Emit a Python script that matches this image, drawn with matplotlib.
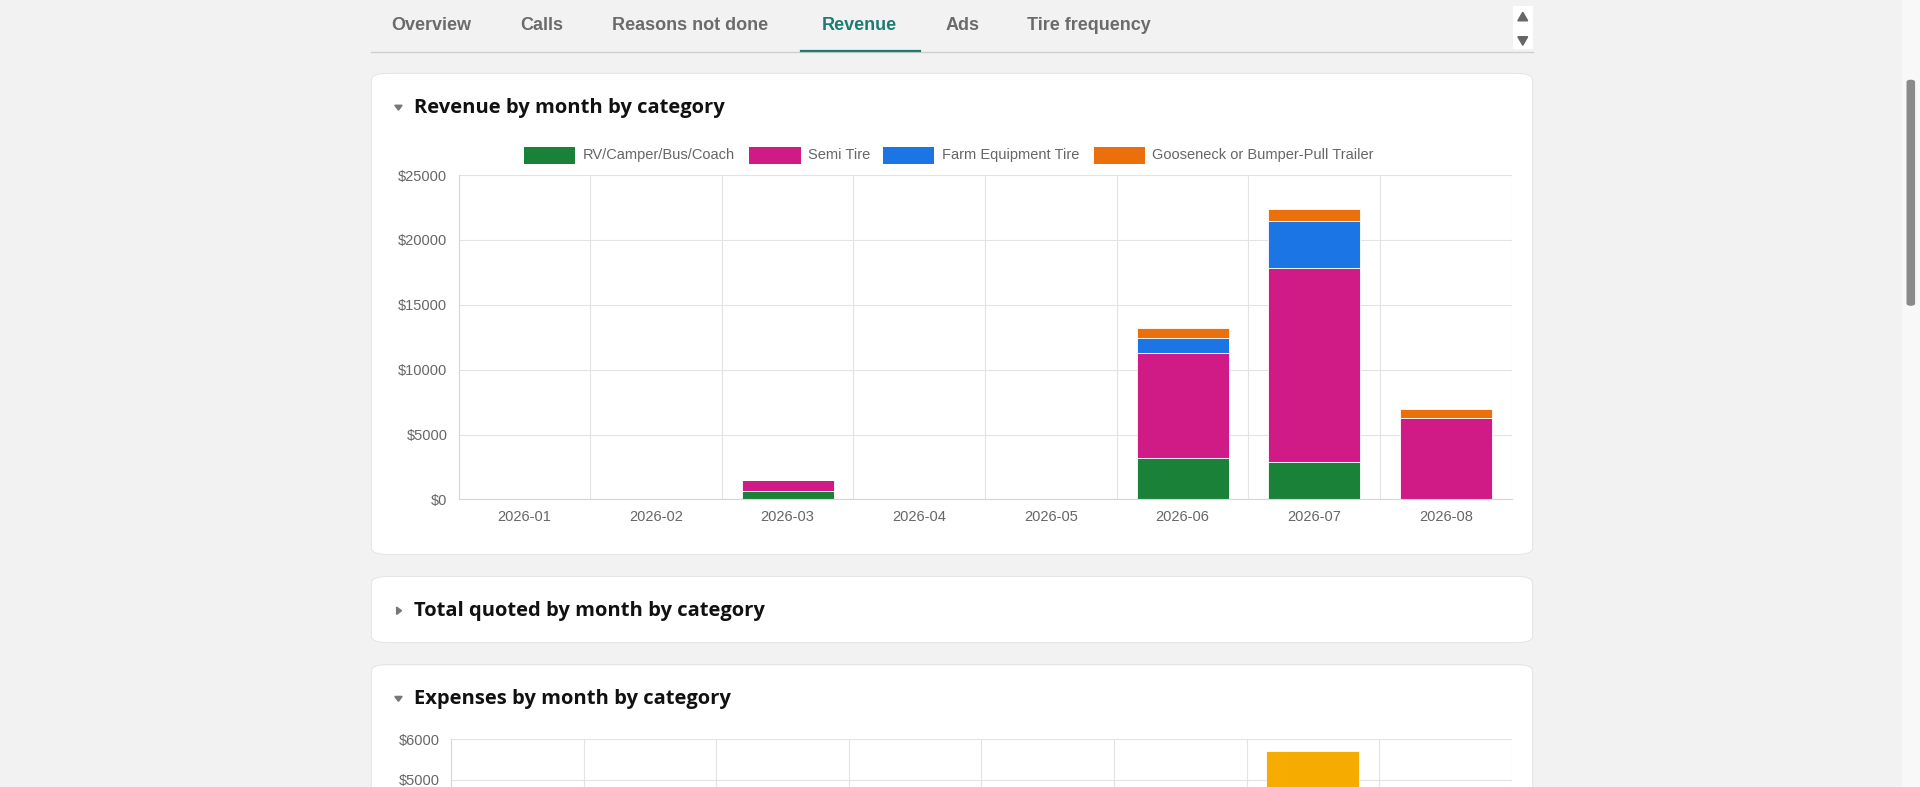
import matplotlib.pyplot as plt
from matplotlib.patches import FancyBboxPatch, Rectangle, Polygon
import numpy as np

plt.rcParams.update({
    'font.family': ['Liberation Sans', 'DejaVu Sans'],
})

months = ['2026-01', '2026-02', '2026-03', '2026-04', '2026-05', '2026-06', '2026-07', '2026-08']
categories = ['RV/Camper/Bus/Coach', 'Semi Tire', 'Farm Equipment Tire', 'Gooseneck or Bumper-Pull Trailer']
colors = ['#1a8238', '#d01a86', '#1b75e4', '#eb700c']
rv_camper = [0, 0, 650, 0, 0, 3200, 2850, 0]
semi_tire = [0, 0, 850, 0, 0, 8100, 15000, 6250]
farm_equipment = [0, 0, 0, 0, 0, 1100, 3600, 0]
gooseneck = [0, 0, 0, 0, 0, 800, 900, 750]
revenue_ticks = [0, 5000, 10000, 15000, 20000, 25000]

expenses_total = [0, 0, 0, 0, 0, 0, 5700, 0]
expenses_ticks = [5000, 6000]  # only these are on screen

# screenshot was laid out in 1566x643 units, saved at 1920x787
W, H = 1566, 643
fig = plt.figure(figsize=(19.2, 7.87), dpi=100)
fig.patch.set_facecolor('#f2f2f2')


def fx(x):
    return x / W


def fy(y):
    return 1 - y / H


def rect(x0, y0, x1, y1):
    return [fx(x0), fy(y1), (x1 - x0) / W, (y1 - y0) / H]


def card(x0, y0, x1, y1):
    fig.patches.append(FancyBboxPatch((fx(x0), fy(y1)), (x1 - x0) / W, (y1 - y0) / H,
                                      boxstyle='round,pad=0,rounding_size=0.008',
                                      transform=fig.transFigure, facecolor='white',
                                      edgecolor='#e6e6e6', linewidth=0.8, zorder=-5))


# tabs
tabs = [('Overview', 319), ('Calls', 424), ('Reasons not done', 499), ('Revenue', 670),
        ('Ads', 771), ('Tire frequency', 838)]
for name, x in tabs:
    col = '#1e7b72' if name == 'Revenue' else '#6b6b6b'
    fig.text(fx(x), fy(21), name, fontsize=13, fontweight='bold', color=col, va='center')
fig.add_artist(plt.Line2D([fx(303), fx(1250)], [fy(42.5), fy(42.5)], color='#cfcfcf', lw=1))
fig.add_artist(plt.Line2D([fx(653), fx(750)], [fy(41.5), fy(41.5)], color='#1e7b72', lw=1.6))
fig.patches.append(Rectangle((fx(1234), fy(40)), 16 / W, 35 / H, transform=fig.transFigure,
                             facecolor='white', edgecolor='none', zorder=-5))
fig.patches.append(Polygon([(fx(1238), fy(17)), (fx(1246), fy(17)), (fx(1242), fy(10))],
                           transform=fig.transFigure, color='#666666'))
fig.patches.append(Polygon([(fx(1238), fy(30)), (fx(1246), fy(30)), (fx(1242), fy(37))],
                           transform=fig.transFigure, color='#666666'))

# page scrollbar
fig.patches.append(Rectangle((fx(1551), 0), 15 / W, 1, transform=fig.transFigure,
                             facecolor='#f8f8f8', edgecolor='none', zorder=-5))
fig.patches.append(FancyBboxPatch((fx(1555), fy(250)), 7 / W, 185 / H,
                                  boxstyle='round,pad=0,rounding_size=0.003',
                                  transform=fig.transFigure, facecolor='#8a8a8a', edgecolor='none'))

# cards
card(303, 60, 1250, 453)
card(303, 471, 1250, 525)
card(303, 543, 1250, 700)

titles = [('Revenue by month by category', 88, True), ('Total quoted by month by category', 499, False),
          ('Expenses by month by category', 571, True)]
for text, y, opened in titles:
    fig.text(fx(338), fy(y), text, fontsize=14.5, fontweight='bold', color='#111111', va='center',
             family=['Open Sans', 'DejaVu Sans'])
    tri = [(fx(322), fy(y - 2)), (fx(328), fy(y - 2)), (fx(325), fy(y + 2))] if opened else \
        [(fx(323.5), fy(y - 3)), (fx(323.5), fy(y + 3)), (fx(327.5), fy(y))]
    fig.patches.append(Polygon(tri, transform=fig.transFigure, color='#777777'))

# legend
leg_x = [427, 611, 720, 892]
for x, name, c in zip(leg_x, categories, colors):
    fig.patches.append(Rectangle((fx(x), fy(134)), 42 / W, 14 / H, transform=fig.transFigure,
                                 facecolor=c, edgecolor='none'))
    fig.text(fx(x + 48), fy(127), name, fontsize=10.5, color='#666666', va='center')


def style_axis(ax, n):
    ax.set_facecolor('white')
    ax.set_xlim(-0.5, n - 0.5)
    ax.set_xticks(np.arange(n))
    ax.set_xticks(np.arange(n + 1) - 0.5, minor=True)
    ax.grid(True, which='minor', axis='x', color='#e3e3e3', lw=0.8)
    ax.grid(True, which='major', axis='y', color='#e3e3e3', lw=0.8)
    ax.tick_params(which='both', length=0, colors='#666666', labelsize=10.5, pad=8)
    for s in ax.spines.values():
        s.set_visible(False)
    ax.spines['left'].set_visible(True)
    ax.spines['left'].set_color('#d6d6d6')
    ax.spines['bottom'].set_visible(True)
    ax.spines['bottom'].set_color('#d6d6d6')
    ax.set_axisbelow(True)


# revenue chart
ax = fig.add_axes(rect(374, 143, 1233, 408))
x = np.arange(len(months))
bottom = np.zeros(len(months))
for vals, c in zip([rv_camper, semi_tire, farm_equipment, gooseneck], colors):
    ax.bar(x, vals, 0.7, bottom=bottom, color=c, edgecolor='white', linewidth=0.6)
    bottom += np.array(vals)
style_axis(ax, len(months))
ax.set_ylim(0, 25000)
ax.set_yticks(revenue_ticks)
ax.set_yticklabels([f'${v}' for v in revenue_ticks])
ax.set_xticklabels(months)

# expenses chart, cut off by the bottom of the screen
ax2 = fig.add_axes(rect(368, 604, 1233, 802))
ax2.bar(x, expenses_total, 0.7, color='#f5ab00', edgecolor='white', linewidth=0.6)
style_axis(ax2, len(months))
ax2.set_ylim(0, 6000)
ax2.set_yticks(expenses_ticks)
ax2.set_yticklabels([f'${v}' for v in expenses_ticks])
ax2.set_xticklabels([])

fig.savefig('out.png', dpi=100, facecolor=fig.get_facecolor())
